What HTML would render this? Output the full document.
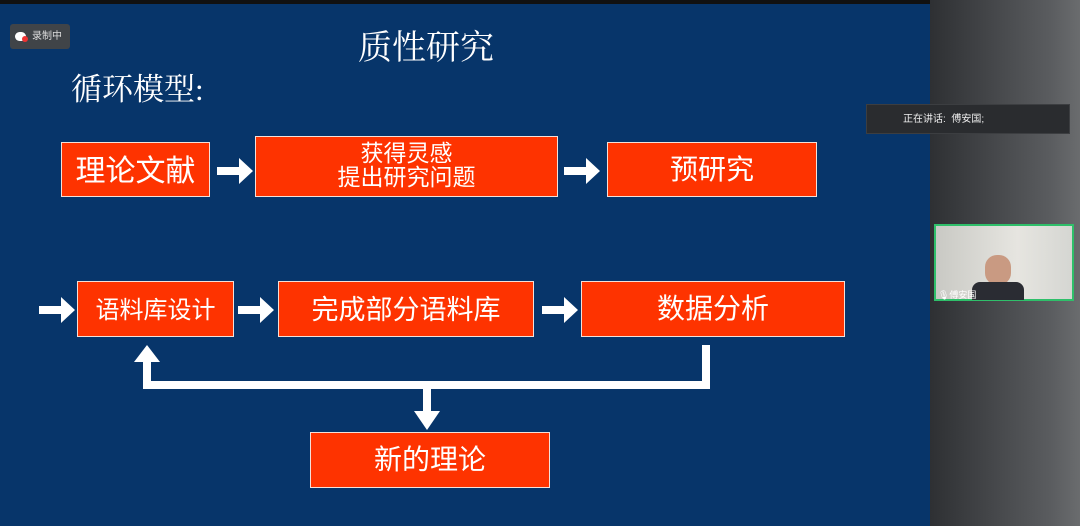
<!DOCTYPE html>
<html><head><meta charset="utf-8"><style>
body{margin:0;width:1080px;height:526px;overflow:hidden;background:#111;font-family:"Liberation Sans","Noto Sans CJK SC",sans-serif;position:relative}
.slide{position:absolute;left:0;top:4px;width:930px;height:522px;background:#07356a}
.side{position:absolute;left:930px;top:0;width:150px;height:526px;background:linear-gradient(90deg,#2e3033,#5a5c5f 80%,#6a6c6e)}
.b{position:absolute;background:#fe3300;border:1.5px solid #f4e0d8;color:#fff;display:flex;align-items:center;justify-content:center;text-align:center;box-sizing:border-box;padding-bottom:4px}
.t{position:absolute;color:#fff;font-family:"Liberation Serif","Noto Serif CJK SC",serif}
</style></head><body>
<div class="slide"></div>
<div class="side"></div>
<div style="position:absolute;left:10px;top:24px;width:60px;height:25px;background:#404448;border-radius:3px;color:#ddd;font-size:10px;line-height:25px;padding-left:22px;box-sizing:border-box">录制中</div>
<div style="position:absolute;left:15px;top:32px;width:11px;height:9px;background:#fff;border-radius:5px"></div>
<div style="position:absolute;left:22px;top:36px;width:6px;height:6px;background:#e33;border-radius:3px"></div>
<div class="t" style="left:358px;top:20px;font-size:34px">质性研究</div>
<div class="t" style="left:71px;top:64px;font-size:31px">循环模型:</div>
<div class="b" style="left:61px;top:142px;width:149px;height:55px;font-size:30px">理论文献</div>
<div class="b" style="left:255px;top:136px;width:303px;height:61px;font-size:23px;line-height:24px">获得灵感<br>提出研究问题</div>
<div class="b" style="left:607px;top:142px;width:210px;height:55px;font-size:28px">预研究</div>
<div class="b" style="left:77px;top:281px;width:157px;height:56px;font-size:24px">语料库设计</div>
<div class="b" style="left:278px;top:281px;width:256px;height:56px;font-size:27px">完成部分语料库</div>
<div class="b" style="left:581px;top:281px;width:264px;height:56px;font-size:28px">数据分析</div>
<div class="b" style="left:310px;top:432px;width:240px;height:56px;font-size:28px">新的理论</div>
<svg width="1080" height="526" style="position:absolute;left:0;top:0" fill="#fff" stroke="none">
<defs><path id="ar" d="M0,-4h22v-9l14,13l-14,13v-9h-22z"/></defs>
<use href="#ar" x="217" y="171"/>
<use href="#ar" x="564" y="171"/>
<use href="#ar" x="39" y="310"/>
<use href="#ar" x="238" y="310"/>
<use href="#ar" x="542" y="310"/>
<rect x="702" y="345" width="8" height="44"/>
<rect x="143" y="381" width="567" height="8"/>
<rect x="143" y="358" width="8" height="31"/>
<polygon points="134,362 147,345 160,362"/>
<rect x="423" y="389" width="8" height="24"/>
<polygon points="414,411 440,411 427,430"/>
</svg>
<div style="position:absolute;left:866px;top:104px;width:204px;height:30px;background:#2a2c2f;border:1px solid #3c3e41;color:#eee;font-size:10px;line-height:30px;padding-left:36px;box-sizing:border-box">正在讲话:&nbsp; 傅安国;</div>
<div style="position:absolute;left:934px;top:224px;width:140px;height:77px;border:2px solid #2fbf6a;box-sizing:border-box;background:linear-gradient(90deg,#c9c9c4,#e6e5e0 60%,#d5d6d2)"></div>
<div style="position:absolute;left:985px;top:255px;width:26px;height:30px;background:#c99a82;border-radius:12px"></div>
<div style="position:absolute;left:972px;top:282px;width:52px;height:18px;background:#2a2c33;border-radius:8px 8px 0 0"></div>
<div style="position:absolute;left:938px;top:288px;color:#fff;font-size:9px">🎙傅安国</div>
</body></html>
